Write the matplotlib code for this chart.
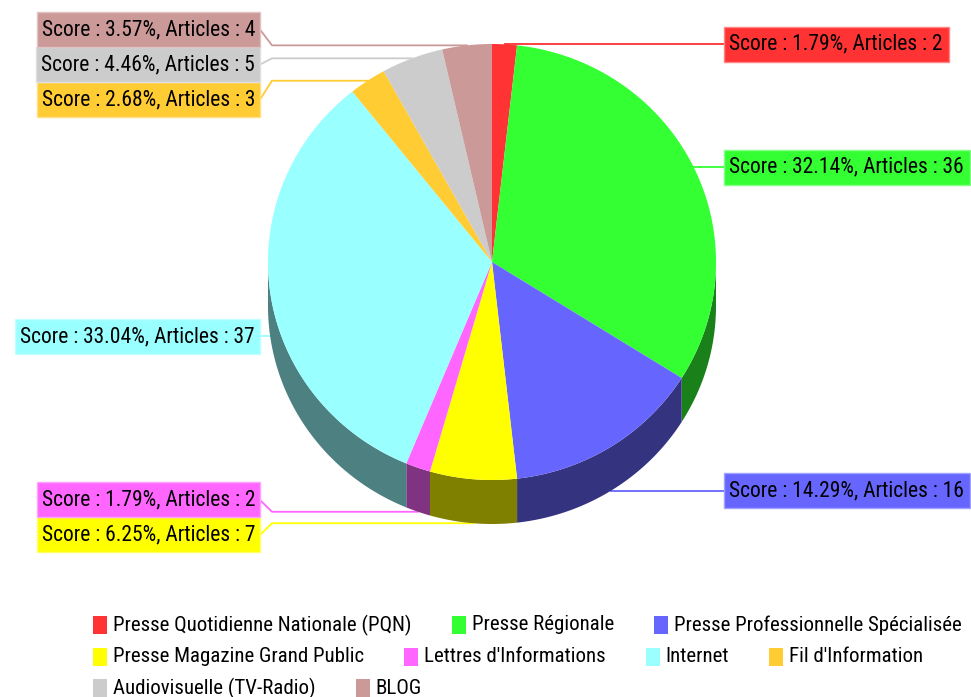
import numpy as np
import matplotlib.pyplot as plt
from matplotlib.patches import Polygon, Rectangle
from matplotlib.colors import to_rgb

# data
categories = ['Presse Quotidienne Nationale (PQN)', 'Presse Régionale',
              'Presse Professionnelle Spécialisée', 'Presse Magazine Grand Public',
              "Lettres d'Informations", 'Internet', "Fil d'Information",
              'Audiovisuelle (TV-Radio)', 'BLOG']
articles = [2, 36, 16, 7, 2, 37, 3, 5, 4]
scores = [1.79, 32.14, 14.29, 6.25, 1.79, 33.04, 2.68, 4.46, 3.57]
colors = ['#FF3333', '#33FF33', '#6666FF', '#FFFF00', '#FF66FF',
          '#99FFFF', '#FFCC33', '#CCCCCC', '#CC9999']

plt.rcParams['font.family'] = ['Roboto Condensed', 'DejaVu Sans']
FS = 15.5
FS_LEG = 15

fig = plt.figure(figsize=(9.71, 6.97), dpi=100)
ax = fig.add_axes([0, 0, 1, 1])
ax.set_xlim(0, 971)
ax.set_ylim(697, 0)
ax.axis('off')

# pie geometry in pixels
cx, cy, rx, ry, depth = 492, 262, 224, 218, 44
box_h = 35
top_min = 12


def pt(a, dy=0):
    a = np.radians(a)
    return cx + rx * np.cos(a), cy - ry * np.sin(a) + dy


def arc(a1, a2, dy=0, n=200):
    t = np.linspace(a1, a2, n)
    return np.column_stack(pt(t, dy))


def darker(c):
    return tuple(v * 0.5 for v in to_rgb(c))


total = float(sum(articles))
fracs = np.cumsum([0] + articles) / total
starts = 90 - fracs[:-1] * 360
ends = 90 - fracs[1:] * 360

# side walls (front half only) and top faces
for i, c in enumerate(colors):
    hi = min(starts[i], 0)
    lo = max(ends[i], -180)
    if hi > lo:
        top = arc(hi, lo)
        bot = arc(lo, hi, depth)
        ax.add_patch(Polygon(np.vstack([top, bot]), closed=True, fc=darker(c),
                             ec='none', zorder=2))
    face = np.vstack([[cx, cy], arc(starts[i], ends[i])])
    ax.add_patch(Polygon(face, closed=True, fc=c, ec='none', zorder=3))


# label anchors
mids = (starts + ends) / 2
anchors = []
for m in mids:
    x, y = pt(m)
    if np.sin(np.radians(m)) < 0:
        y += depth
    anchors.append((x, y))


def spread(ys, h):
    order = list(np.argsort(ys))
    groups = [[i] for i in order]
    while True:
        pos = [np.mean([ys[i] for i in g]) - h * (len(g) - 1) / 2 for g in groups]
        pos = [max(p, top_min + h / 2) for p in pos]
        hit = None
        for k in range(len(groups) - 1):
            if pos[k + 1] - (pos[k] + h * (len(groups[k]) - 1)) < h:
                hit = k
                break
        if hit is None:
            break
        groups[hit] = groups[hit] + groups[hit + 1]
        del groups[hit + 1]
    out = {}
    for g, p in zip(groups, pos):
        for j, i in enumerate(g):
            out[i] = p + j * h
    return out


left = [i for i in range(len(colors)) if np.cos(np.radians(mids[i])) < 0]
right = [i for i in range(len(colors)) if i not in left]
box_y = {}
for side in (left, right):
    res = spread([anchors[i][1] for i in side], box_h)
    for k, i in enumerate(side):
        box_y[i] = res[k]

fig.canvas.draw()
renderer = fig.canvas.get_renderer()
inv = ax.transData.inverted()

for i, c in enumerate(colors):
    label = 'Score : %.2f%%, Articles : %d' % (scores[i], articles[i])
    ax_, ay = anchors[i]
    by = box_y[i]
    if i in left:
        edge = 260
        t = ax.text(edge - 5, by, label, ha='right', va='center', fontsize=FS,
                    color='black', zorder=6)
        line = [(edge, by), (edge + 12, ay), (ax_, ay)]
    else:
        edge = 724
        t = ax.text(edge + 5, by, label, ha='left', va='center', fontsize=FS,
                    color='black', zorder=6)
        line = [(edge, by), (edge - 12, ay), (ax_, ay)]
    bb = t.get_window_extent(renderer)
    x0 = inv.transform((bb.x0, bb.y0))[0]
    x1 = inv.transform((bb.x1, bb.y0))[0]
    if i in left:
        rect = Rectangle((x0 - 5, by - box_h / 2), edge - x0 + 5, box_h)
    else:
        rect = Rectangle((edge, by - box_h / 2), x1 - edge + 6, box_h)
    rect.set_facecolor(c)
    rect.set_edgecolor(tuple(min(1, v * 0.6 + 0.4) for v in to_rgb(c)))
    rect.set_linewidth(1)
    rect.set_zorder(5)
    ax.add_patch(rect)
    xs, ys = zip(*line)
    ax.plot(xs, ys, color=c, lw=1.3, zorder=1)

# legend in flow layout
lx0, lx_max, ly, row_h = 93, 971, 625, 31.5
mw, mh, gap_txt, gap_item = 14, 18, 6, 40
x = lx0
for i, c in enumerate(categories):
    t = ax.text(0, 0, c, fontsize=FS_LEG, va='center', ha='left')
    bb = t.get_window_extent(renderer)
    w = bb.width
    if x + mw + gap_txt + w > lx_max:
        x = lx0
        ly += row_h
    ax.add_patch(Rectangle((x, ly - mh / 2), mw, mh, fc=colors[i], ec='none'))
    t.set_position((x + mw + gap_txt, ly))
    x += mw + gap_txt + w + gap_item

fig.savefig('out.png', dpi=100)
